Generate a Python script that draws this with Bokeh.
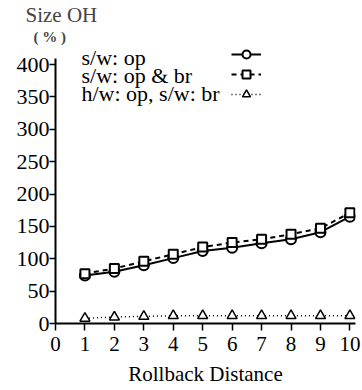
from bokeh.plotting import figure
from bokeh.models import Range1d, FixedTicker, Legend, LegendItem, Label, Title
from bokeh.embed import file_html
from bokeh.resources import INLINE

# ---- data ----
distance = [1, 2, 3, 4, 5, 6, 7, 8, 9, 10]
sw_op = [74, 80, 90, 101, 112, 117, 124, 130, 141, 165]
sw_op_br = [77, 85, 96, 107, 118, 125, 130, 138, 147, 171]
hw_op_sw_br = [8, 10, 11, 12, 12, 12, 12, 12, 12, 12]
series_labels = ["s/w: op", "s/w: op & br", "h/w: op, s/w: br"]
x_ticks = [0, 1, 2, 3, 4, 5, 6, 7, 8, 9, 10]
y_ticks = [0, 50, 100, 150, 200, 250, 300, 350, 400]

FONT = "Liberation Serif"

p = figure(width=362, height=390, output_backend="svg", toolbar_location=None,
           x_range=Range1d(0, 10.19), y_range=Range1d(0, 431),
           min_border_left=55, min_border_right=7, min_border_top=43, min_border_bottom=67)
p.outline_line_color = None
p.grid.visible = False
p.background_fill_color = "white"
p.border_fill_color = "white"

for ax in (p.xaxis[0], p.yaxis[0]):
    ax.axis_line_color = "black"
    ax.axis_line_width = 2
    ax.major_tick_line_color = "black"
    ax.major_tick_line_width = 1.5
    ax.minor_tick_line_color = None
    ax.major_tick_in = 0
    ax.major_label_text_font = FONT
    ax.major_label_text_color = "black"

p.xaxis.major_label_text_font_size = "21px"
p.yaxis.major_label_text_font_size = "22px"
p.yaxis.bounds = (0, 409)
p.xaxis.major_tick_out = 7
p.yaxis.major_tick_out = 6
p.xaxis.ticker = FixedTicker(ticks=x_ticks)
p.yaxis.ticker = FixedTicker(ticks=y_ticks)
p.xaxis.major_label_standoff = 6
p.yaxis.major_label_standoff = 0
p.xaxis.axis_label = "Rollback Distance"
p.xaxis.axis_label_text_font = FONT
p.xaxis.axis_label_text_color = "black"
p.xaxis.axis_label_text_font_size = "21px"
p.xaxis.axis_label_text_font_style = "normal"
p.xaxis.axis_label_standoff = 8

r1l = p.line(distance, sw_op, line_color="black", line_width=2)
r1m = p.scatter(distance, sw_op, marker="circle", size=10, fill_color="white",
                line_color="black", line_width=2)
r2l = p.line(distance, sw_op_br, line_color="black", line_width=2, line_dash="5 4")
r2m = p.scatter(distance, sw_op_br, marker="square", size=9, fill_color="white",
                line_color="black", line_width=2)
r3l = p.line(distance, hw_op_sw_br, line_color="black", line_width=1.5, line_dash="1 3")
r3m = p.scatter(distance, hw_op_sw_br, marker="triangle", size=10, fill_color="white",
                line_color="black", line_width=1.5)

legend = Legend(items=[LegendItem(label=" ", renderers=[r1l, r1m]),
                       LegendItem(label=" ", renderers=[r2l, r2m]),
                       LegendItem(label=" ", renderers=[r3l, r3m])],
                location=(176, 219), glyph_width=30, glyph_height=20, label_height=20,
                spacing=0, padding=0, margin=0, label_standoff=0,
                border_line_color=None, background_fill_alpha=0,
                label_text_font_size="1px")
p.add_layout(legend)

for i, t in enumerate(series_labels):
    p.add_layout(Label(x=26, y=266 - i * 18, x_units="screen", y_units="screen", text=t,
                       text_font=FONT, text_font_size="22px", text_baseline="middle",
                       text_color="black"))

p.add_layout(Title(text="( % )", text_font=FONT, text_font_size="15px",
                   text_font_style="bold", align="left", offset=-22, standoff=0), "above")
p.add_layout(Title(text="Size OH", text_font=FONT, text_font_size="21px",
                   text_font_style="normal", align="left", offset=-30, standoff=0), "above")

open("out.html", "w").write(file_html(p, INLINE))
